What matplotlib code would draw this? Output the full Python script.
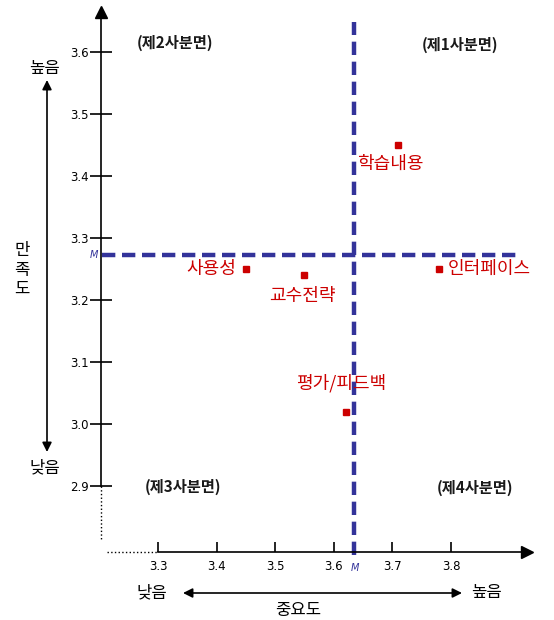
import matplotlib.pyplot as plt

plt.rcParams['font.family'] = ['Noto Sans CJK KR', 'DejaVu Sans']

# data: importance (x) vs satisfaction (y)
items = ['학습내용', '인터페이스', '사용성', '교수전략', '평가/피드백']
importance = [3.71, 3.78, 3.45, 3.55, 3.62]
satisfaction = [3.45, 3.25, 3.25, 3.24, 3.02]
mean_x = 3.634
mean_y = 3.273

x_ticks = [3.3, 3.4, 3.5, 3.6, 3.7, 3.8]
y_ticks = [2.9, 3.0, 3.1, 3.2, 3.3, 3.4, 3.5, 3.6]
quadrants = ['(제1사분면)', '(제2사분면)', '(제3사분면)', '(제4사분면)']

red = '#cc0000'
blue = '#33339a'

fig = plt.figure(figsize=(5.54, 6.2), dpi=100)
ax = fig.add_axes([0, 0, 1, 1])
ax.set_xlim(3.0304, 3.0304 + 554 / 586)
ax.set_ylim(3.6839 - 1.0, 3.6839)

x_axis_pos = 3.203
y_axis_pos = 2.794

for s in ['top', 'right']:
    ax.spines[s].set_visible(False)
ax.spines['left'].set_position(('data', x_axis_pos))
ax.spines['bottom'].set_position(('data', y_axis_pos))
ax.spines['left'].set_bounds(2.9, 3.665)
ax.spines['bottom'].set_bounds(3.3, 3.93)
ax.spines['left'].set_linewidth(1.2)
ax.spines['bottom'].set_linewidth(1.2)

# dotted stubs near origin
ax.plot([x_axis_pos, x_axis_pos], [2.9, 2.813], ls=':', color='k', lw=1)
ax.plot([3.213, 3.3], [y_axis_pos, y_axis_pos], ls=':', color='k', lw=1)
# arrow heads
ax.plot(x_axis_pos, 3.665, marker='^', color='k', ms=9, clip_on=False)
ax.plot(3.93, y_axis_pos, marker='>', color='k', ms=9, clip_on=False)

ax.set_xticks(x_ticks)
ax.set_xticklabels([f'{v:.1f}' for v in x_ticks])
ax.set_yticks(y_ticks)
ax.set_yticklabels([f'{v:.1f}' for v in y_ticks])
ax.tick_params(axis='y', direction='inout', length=16, width=1.2, pad=1,
               labelsize=8.5, labelfontfamily='Liberation Sans Narrow')
ax.tick_params(axis='x', direction='in', length=7, width=1.2, pad=6,
               labelsize=8.5, labelfontfamily='Liberation Sans Narrow')

# mean lines
ax.hlines(mean_y, 3.205, 3.918, colors=blue, linestyles=(0, (3, 1.5)), lw=3.2)
ax.vlines(mean_x, 2.789, 3.648, colors=blue, linestyles=(0, (3, 1.5)), lw=3.2)
ax.text(3.19, mean_y, 'M', color=blue, fontsize=7, style='italic',
        ha='center', va='center', family='DejaVu Sans', zorder=5)
ax.text(mean_x + 0.002, 2.768, 'M', color=blue, fontsize=7, style='italic',
        ha='center', va='center', family='DejaVu Sans')

# points
ax.plot(importance, satisfaction, 's', color=red, ms=4, ls='none')
offsets = {
    '학습내용': (-0.07, -0.03, 'left', 'center'),
    '인터페이스': (0.015, 0.0, 'left', 'center'),
    '사용성': (-0.017, 0.0, 'right', 'center'),
    '교수전략': (-0.003, -0.033, 'center', 'center'),
    '평가/피드백': (-0.008, 0.045, 'center', 'center'),
}
for name, x, y in zip(items, importance, satisfaction):
    dx, dy, ha, va = offsets[name]
    ax.text(x + dx, y + dy, name, color=red, fontsize=13, ha=ha, va=va)

# quadrant labels
q_pos = [(3.815, 3.611), (3.329, 3.615), (3.343, 2.898), (3.841, 2.897)]
for lab, (qx, qy) in zip(quadrants, q_pos):
    ax.text(qx, qy, lab, fontsize=11, fontweight='bold', ha='center',
            va='center', color='#1a1a1a')

# outer axis descriptions
fig.text(45, 620 - 68, '높음', transform=None, fontsize=12, ha='center', va='center')
fig.text(45, 620 - 468, '낮음', transform=None, fontsize=12, ha='center', va='center')
fig.text(22, 620 - 270, '만\n족\n도', transform=None, fontsize=12, ha='center',
         va='center', linespacing=1.2)
ax.annotate('', xy=(47, 620 - 80), xytext=(47, 620 - 452), xycoords='figure pixels',
            textcoords='figure pixels',
            arrowprops=dict(arrowstyle='<|-|>', color='k', lw=1.2, mutation_scale=14,
                            shrinkA=0, shrinkB=0))
fig.text(152, 620 - 593, '낮음', transform=None, fontsize=12, ha='center', va='center')
fig.text(486, 620 - 593, '높음', transform=None, fontsize=12, ha='center', va='center')
fig.text(298, 620 - 610, '중요도', transform=None, fontsize=12, ha='center', va='center')
ax.annotate('', xy=(183, 620 - 593), xytext=(462, 620 - 593), xycoords='figure pixels',
            textcoords='figure pixels',
            arrowprops=dict(arrowstyle='<|-|>', color='k', lw=1.2, mutation_scale=14,
                            shrinkA=0, shrinkB=0))

fig.savefig('out.png', dpi=100)
